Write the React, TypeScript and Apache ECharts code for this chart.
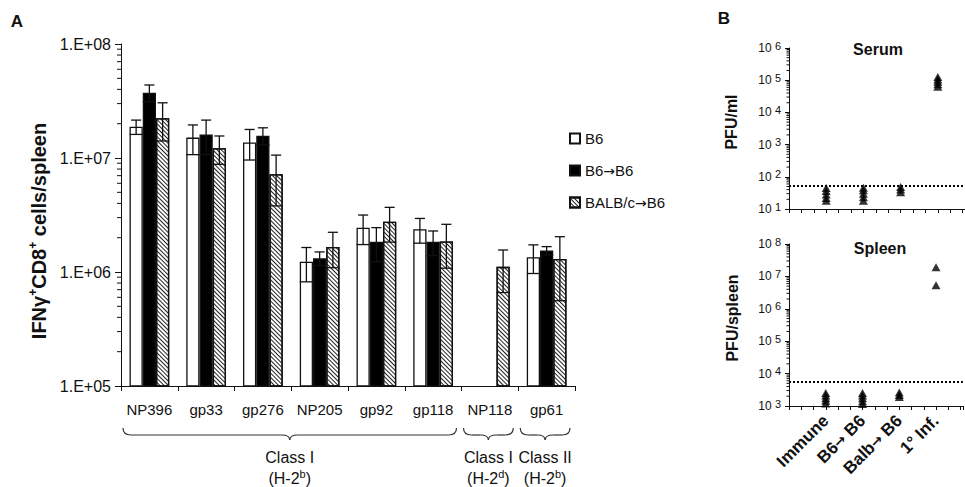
import React, { useEffect, useRef } from 'react';
import * as echarts from 'echarts';

// ---------- Panel A data ----------
const epitopes = ['NP396', 'gp33', 'gp276', 'NP205', 'gp92', 'gp118', 'NP118', 'gp61'];
const seriesNames = ['B6', 'B6→B6', 'BALB/c→B6'];
const b6Values = [1.88e7, 1.51e7, 1.37e7, 1.23e6, 2.45e6, 2.37e6, null, 1.35e6];
const b6Errors = [0.27e7, 0.44e7, 0.41e7, 0.41e6, 0.71e6, 0.58e6, null, 0.38e6];
const b6b6Values = [3.74e7, 1.61e7, 1.57e7, 1.32e6, 1.84e6, 1.84e6, null, 1.54e6];
const b6b6Errors = [0.63e7, 0.54e7, 0.27e7, 0.18e6, 0.61e6, 0.45e6, null, 0.13e6];
const balbValues = [2.23e7, 1.22e7, 7.2e6, 1.66e6, 2.76e6, 1.85e6, 1.11e6, 1.3e6];
const balbErrors = [0.82e7, 0.34e7, 3.4e6, 0.57e6, 0.93e6, 0.77e6, 0.45e6, 0.74e6];
const classGroups = [
  { first: 0, last: 5, name: 'Class I', haplo: 'b' },
  { first: 6, last: 6, name: 'Class I', haplo: 'd' },
  { first: 7, last: 7, name: 'Class II', haplo: 'b' },
];

// ---------- Panel B data ----------
const groupsB = ['Immune', 'B6→ B6', 'Balb→ B6', '1° Inf.'];
const serumImmune = [45, 36, 28, 22, 18];
const serumB6B6 = [46, 38, 30, 23, 18];
const serumBalbB6 = [48, 40, 33];
const serumPrimary = [1.25e5, 1.05e5, 9e4, 7.5e4, 6.3e4];
const spleenImmune = [2.5e3, 2.1e3, 1.75e3, 1.45e3, 1.2e3];
const spleenB6B6 = [2.5e3, 2.1e3, 1.75e3, 1.4e3, 1.15e3];
const spleenBalbB6 = [2.6e3, 2.2e3, 1.9e3];
const spleenPrimary = [1.9e7, 5.3e6];
const serumLimit = 53;
const spleenLimit = 5.5e3;

const minorMultipliers = [2, 3, 4, 5, 6, 7, 8, 9];

const FONT = '"Liberation Sans", Arial, Helvetica, sans-serif';
const ARROW_FONT = '"DejaVu Sans", sans-serif';
const INK = '#111';

const gridA = { left: 121, top: 44, width: 454, height: 342 };
const gridSerum = { left: 789, top: 48, width: 176, height: 161 };
const gridSpleen = { left: 789, top: 244, width: 176, height: 162 };
const CAT_GAP = 0.3;

function withArrow(s: string) {
  return s.split('→').join('{a|→}');
}

function minorTickValues(minExp: number, maxExp: number) {
  const out: number[][] = [];
  for (let e = minExp; e < maxExp; e++) {
    minorMultipliers.forEach((m) => out.push([0, m * Math.pow(10, e)]));
  }
  return out;
}

function minorTickSeries(xi: number, len: number, minExp: number, maxExp: number) {
  return {
    type: 'custom',
    xAxisIndex: xi,
    yAxisIndex: xi,
    silent: true,
    z: 1,
    data: minorTickValues(minExp, maxExp),
    encode: { x: 0, y: 1 },
    renderItem: (params: any, api: any) => {
      const y = api.coord([api.value(0), api.value(1)])[1];
      const x0 = params.coordSys.x;
      return {
        type: 'line',
        shape: { x1: x0 - len, y1: y, x2: x0, y2: y },
        style: { stroke: INK, lineWidth: 1 },
      };
    },
  };
}

function pointsOf(groups: number[][]) {
  const out: number[][] = [];
  groups.forEach((vals, i) => vals.forEach((v) => out.push([i + 1, v])));
  return out;
}

function pow10Label(v: number) {
  const e = Math.round(Math.log10(v));
  return `{b|10 }{s|${e}}`;
}

function braceElements(x1: number, x2: number, y: number) {
  const mid = (x1 + x2) / 2;
  const d = 7;
  const tip = 12;
  const r = Math.min(8, (x2 - x1) / 4);
  const st = { stroke: '#333', lineWidth: 1.2, fill: 'none' };
  return [
    { type: 'bezierCurve', shape: { x1, y1: y, x2: x1 + r, y2: y + d, cpx1: x1, cpy1: y + d }, style: st },
    { type: 'line', shape: { x1: x1 + r, y1: y + d, x2: mid - r, y2: y + d }, style: st },
    { type: 'bezierCurve', shape: { x1: mid - r, y1: y + d, x2: mid, y2: y + tip, cpx1: mid, cpy1: y + d }, style: st },
    { type: 'bezierCurve', shape: { x1: mid, y1: y + tip, x2: mid + r, y2: y + d, cpx1: mid, cpy1: y + d }, style: st },
    { type: 'line', shape: { x1: mid + r, y1: y + d, x2: x2 - r, y2: y + d }, style: st },
    { type: 'bezierCurve', shape: { x1: x2 - r, y1: y + d, x2, y2: y, cpx1: x2, cpy1: y + d }, style: st },
  ];
}

function buildOption() {
  const catW = gridA.width / epitopes.length;
  const hatch = {
    symbol: 'rect',
    symbolSize: 1,
    dashArrayX: [1, 0],
    dashArrayY: [1, 1.6],
    rotation: Math.PI / 4,
    color: '#222',
    backgroundColor: '#fff',
  };

  const valueSets = [b6Values, b6b6Values, balbValues];
  const errorSets = [b6Errors, b6b6Errors, balbErrors];
  const errData: number[][] = [];
  valueSets.forEach((vals, k) =>
    vals.forEach((v, i) => {
      const e = errorSets[k][i];
      if (v != null && e != null) errData.push([i, v, e, k]);
    })
  );

  const barStyleBase = { borderColor: INK, borderWidth: 1.3 };

  const graphics: any[] = [];
  graphics.push({ type: 'text', x: 17, y: 21, style: { text: 'A', fontSize: 17, fontWeight: 'bold', fontFamily: FONT, fill: INK, align: 'center', verticalAlign: 'middle' } });
  graphics.push({ type: 'text', x: 724, y: 18, style: { text: 'B', fontSize: 17, fontWeight: 'bold', fontFamily: FONT, fill: INK, align: 'center', verticalAlign: 'middle' } });
  graphics.push({
    type: 'text', x: 39, y: 231, rotation: Math.PI / 2,
    style: {
      text: '{b|IFNγ}{s|+}{b|CD8}{s|+}{b| cells/spleen}',
      rich: {
        b: { fontSize: 20, fontWeight: 'bold', fontFamily: FONT, fill: INK, lineHeight: 24 },
        s: { fontSize: 12, fontWeight: 'bold', fontFamily: FONT, fill: INK, lineHeight: 12, verticalAlign: 'top' },
      },
      align: 'center', verticalAlign: 'middle',
    },
  });
  classGroups.forEach((g) => {
    const x1 = gridA.left + g.first * catW + 2;
    const x2 = gridA.left + (g.last + 1) * catW - 5;
    braceElements(x1, x2, 428).forEach((el) => graphics.push(el));
    const mid = (x1 + x2) / 2;
    graphics.push({ type: 'text', x: mid, y: 457, style: { text: g.name, fontSize: 16, fontFamily: FONT, fill: INK, align: 'center', verticalAlign: 'middle' } });
    graphics.push({
      type: 'text', x: mid, y: 478,
      style: {
        text: `{n|(H-2}{s|${g.haplo}}{n|)}`,
        rich: {
          n: { fontSize: 16, fontFamily: FONT, fill: INK, lineHeight: 20 },
          s: { fontSize: 11, fontFamily: FONT, fill: INK, lineHeight: 11, verticalAlign: 'top' },
        },
        align: 'center', verticalAlign: 'middle',
      },
    });
  });
  graphics.push({ type: 'text', x: 878, y: 49, style: { text: 'Serum', fontSize: 16, fontWeight: 'bold', fontFamily: FONT, fill: INK, align: 'center', verticalAlign: 'middle' } });
  graphics.push({ type: 'text', x: 880, y: 248, style: { text: 'Spleen', fontSize: 16, fontWeight: 'bold', fontFamily: FONT, fill: INK, align: 'center', verticalAlign: 'middle' } });
  graphics.push({ type: 'text', x: 731, y: 122, rotation: Math.PI / 2, style: { text: 'PFU/ml', fontSize: 16, fontWeight: 'bold', fontFamily: FONT, fill: INK, align: 'center', verticalAlign: 'middle' } });
  graphics.push({ type: 'text', x: 732, y: 318, rotation: Math.PI / 2, style: { text: 'PFU/spleen', fontSize: 16, fontWeight: 'bold', fontFamily: FONT, fill: INK, align: 'center', verticalAlign: 'middle' } });

  const axisLine = { show: true, lineStyle: { color: INK, width: 1 } };
  const logLabelRich = {
    b: { fontSize: 12, fontFamily: FONT, color: INK, lineHeight: 16 },
    s: { fontSize: 11, fontFamily: FONT, color: INK, lineHeight: 9, verticalAlign: 'top' },
  };

  const bXAxis = (gi: number, labels: boolean) => ({
    gridIndex: gi,
    type: 'value',
    min: 0,
    max: 4.73,
    interval: 1,
    axisLine,
    axisTick: { show: true, length: 4, lineStyle: { color: INK } },
    minorTick: { show: true, splitNumber: 3, length: 4, lineStyle: { color: INK } },
    splitLine: { show: false },
    axisLabel: labels
      ? {
          show: true,
          rotate: 45,
          margin: 12,
          fontSize: 17,
          fontWeight: 'bold',
          fontFamily: FONT,
          color: INK,
          rich: { a: { fontFamily: ARROW_FONT, fontSize: 14, fontWeight: 'bold', color: INK } },
          formatter: (v: number) =>
            Number.isInteger(v) && v >= 1 && v <= groupsB.length ? withArrow(groupsB[v - 1]) : '',
        }
      : { show: false },
  });

  const bYAxis = (gi: number, min: number, max: number) => ({
    gridIndex: gi,
    type: 'log',
    logBase: 10,
    min,
    max,
    axisLine,
    axisTick: { show: true, length: 4, lineStyle: { color: INK } },
    splitLine: { show: false },
    minorSplitLine: { show: false },
    axisLabel: { margin: 8, formatter: pow10Label, rich: logLabelRich },
  });

  const limitLine = (v: number) => ({
    silent: true,
    symbol: 'none',
    label: { show: false },
    lineStyle: { color: '#000', type: [2, 2], width: 2.2 },
    data: [{ yAxis: v }],
  });

  return {
    animation: false,
    backgroundColor: '#fff',
    textStyle: { fontFamily: FONT },
    grid: [
      { ...gridA, containLabel: false },
      { ...gridSerum, containLabel: false },
      { ...gridSpleen, containLabel: false },
    ],
    legend: {
      data: seriesNames,
      orient: 'vertical',
      left: 564,
      top: 125,
      itemWidth: 10,
      itemHeight: 10,
      itemGap: 15,
      icon: 'rect',
      selectedMode: false,
      formatter: (name: string) => withArrow(name),
      textStyle: {
        fontSize: 15,
        color: INK,
        fontFamily: FONT,
        lineHeight: 17,
        rich: { a: { fontFamily: ARROW_FONT, fontSize: 14, color: INK, lineHeight: 17 } },
      },
    },
    xAxis: [
      {
        gridIndex: 0,
        type: 'category',
        data: epitopes,
        axisLine,
        axisTick: { show: true, alignWithLabel: false, length: 5, lineStyle: { color: INK } },
        axisLabel: { interval: 0, fontSize: 15, color: INK, fontFamily: FONT, margin: 16 },
        splitLine: { show: false },
      },
      bXAxis(1, false),
      bXAxis(2, true),
    ],
    yAxis: [
      {
        gridIndex: 0,
        type: 'log',
        logBase: 10,
        min: 1e5,
        max: 1e8,
        axisLine,
        axisTick: { show: true, length: 6, lineStyle: { color: INK } },
        splitLine: { show: false },
        minorSplitLine: { show: false },
        axisLabel: {
          margin: 10,
          fontSize: 16,
          color: INK,
          fontFamily: FONT,
          formatter: (v: number) => {
            const e = Math.round(Math.log10(v));
            return `1.E+${String(e).padStart(2, '0')}`;
          },
        },
      },
      bYAxis(1, 10, 1e6),
      bYAxis(2, 1e3, 1e8),
    ],
    graphic: graphics,
    series: [
      {
        type: 'bar', name: seriesNames[0], xAxisIndex: 0, yAxisIndex: 0, data: b6Values,
        barGap: '0%', barCategoryGap: `${CAT_GAP * 100}%`,
        itemStyle: { ...barStyleBase, color: '#fff' },
      },
      {
        type: 'bar', name: seriesNames[1], xAxisIndex: 0, yAxisIndex: 0, data: b6b6Values,
        barGap: '0%', barCategoryGap: `${CAT_GAP * 100}%`,
        itemStyle: { ...barStyleBase, color: '#000' },
      },
      {
        type: 'bar', name: seriesNames[2], xAxisIndex: 0, yAxisIndex: 0, data: balbValues,
        barGap: '0%', barCategoryGap: `${CAT_GAP * 100}%`,
        itemStyle: { ...barStyleBase, color: '#fff', decal: hatch },
      },
      {
        type: 'custom', xAxisIndex: 0, yAxisIndex: 0, silent: true, z: 5,
        data: errData,
        encode: { x: 0, y: 1 },
        renderItem: (params: any, api: any) => {
          const cat = api.value(0);
          const val = api.value(1);
          const err = api.value(2);
          const k = api.value(3);
          const band = params.coordSys.width / epitopes.length;
          const barW = (band * (1 - CAT_GAP)) / 3;
          const c = api.coord([cat, val]);
          const x = c[0] + (k - 1) * barW;
          const hi = api.coord([cat, val + err])[1];
          const lo = api.coord([cat, Math.max(val - err, 1.01e5)])[1];
          const st = { stroke: INK, lineWidth: 1.3 };
          const capTop = barW * 0.38;
          const capBot = barW * 0.5;
          return {
            type: 'group',
            children: [
              { type: 'line', shape: { x1: x, y1: hi, x2: x, y2: lo }, style: st },
              { type: 'line', shape: { x1: x - capTop, y1: hi, x2: x + capTop, y2: hi }, style: st },
              { type: 'line', shape: { x1: x - capBot, y1: lo, x2: x + capBot, y2: lo }, style: st },
            ],
          };
        },
      },
      minorTickSeries(0, 4, 5, 8),
      minorTickSeries(1, 2.5, 1, 6),
      minorTickSeries(2, 2.5, 3, 8),
      {
        type: 'scatter', xAxisIndex: 1, yAxisIndex: 1,
        data: pointsOf([serumImmune, serumB6B6, serumBalbB6, serumPrimary]),
        symbol: 'triangle', symbolSize: [9, 8], itemStyle: { color: '#000' },
        markLine: limitLine(serumLimit),
      },
      {
        type: 'scatter', xAxisIndex: 2, yAxisIndex: 2,
        data: pointsOf([spleenImmune, spleenB6B6, spleenBalbB6, spleenPrimary]),
        symbol: 'triangle', symbolSize: [9, 8], itemStyle: { color: '#000' },
        markLine: limitLine(spleenLimit),
      },
    ],
  };
}

export default function App() {
  const ref = useRef<HTMLDivElement>(null);
  useEffect(() => {
    const chart = echarts.init(ref.current as HTMLDivElement, undefined, { renderer: 'svg' });
    chart.setOption(buildOption() as any);
    return () => chart.dispose();
  }, []);
  return (
    <div
      ref={ref}
      style={{ position: 'absolute', left: 0, top: 0, width: 965, height: 487, background: '#fff' }}
    />
  );
}
